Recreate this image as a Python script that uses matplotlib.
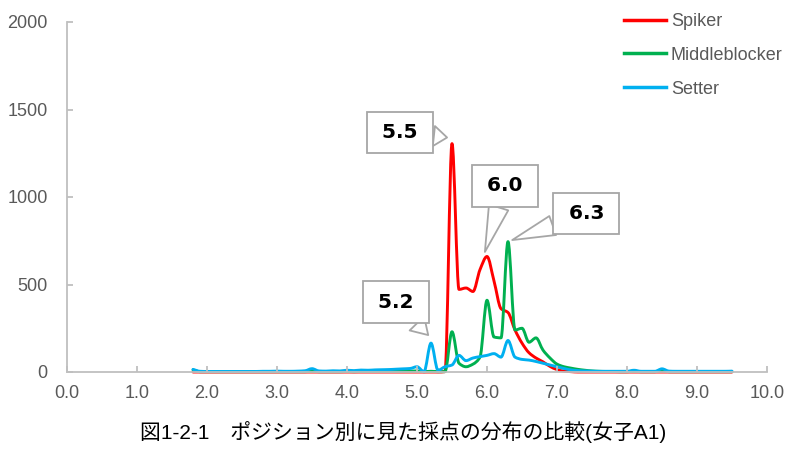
import matplotlib
matplotlib.use("Agg")
import matplotlib.pyplot as plt
import numpy as np
from matplotlib.path import Path
from matplotlib.patches import PathPatch
from matplotlib.lines import Line2D

# score bins (0.1 step) and counts per position
scores = [1.8, 1.9, 2.0, 2.1, 2.2, 2.3, 2.4, 2.5, 2.6, 2.7,
          2.8, 2.9, 3.0, 3.1, 3.2, 3.3, 3.4, 3.5, 3.6, 3.7,
          3.8, 3.9, 4.0, 4.1, 4.2, 4.3, 4.4, 4.5, 4.6, 4.7,
          4.8, 4.9, 5.0, 5.1, 5.2, 5.3, 5.4, 5.5, 5.6, 5.7,
          5.8, 5.9, 6.0, 6.1, 6.2, 6.3, 6.4, 6.5, 6.6, 6.7,
          6.8, 6.9, 7.0, 7.1, 7.2, 7.3, 7.4, 7.5, 7.6, 7.7,
          7.8, 7.9, 8.0, 8.1, 8.2, 8.3, 8.4, 8.5, 8.6, 8.7,
          8.8, 8.9, 9.0, 9.1, 9.2, 9.3, 9.4, 9.5]

spiker = [0, 0, 0, 0, 0, 0, 0, 0, 0, 0,
          0, 0, 0, 0, 0, 0, 0, 0, 0, 0,
          0, 0, 0, 0, 0, 0, 0, 0, 0, 0,
          0, 0, 0, 0, 0, 0, 2, 1305, 472, 480,
          460, 585, 660, 520, 362, 340, 240, 165, 110, 80,
          58, 32, 14, 5, 2, 0, 0, 0, 0, 0,
          0, 0, 0, 0, 0, 0, 0, 0, 0, 0,
          0, 0, 0, 0, 0, 0, 0, 0]

middleblocker = [12, 2, 2, 2, 2, 2, 2, 2, 2, 2,
                 2, 2, 2, 2, 2, 2, 2, 4, 2, 2,
                 2, 2, 3, 2, 3, 3, 3, 4, 4, 4,
                 5, 5, 6, 2, 4, 2, 2, 230, 50, 30,
                 45, 85, 410, 200, 195, 745, 240, 250, 170, 195,
                 125, 80, 45, 30, 22, 15, 10, 6, 4, 3,
                 3, 2, 2, 4, 2, 2, 2, 12, 2, 2,
                 2, 2, 2, 2, 2, 2, 2, 2]

setter = [15, 4, 3, 3, 3, 3, 3, 3, 3, 3,
          4, 4, 5, 4, 4, 5, 7, 19, 6, 5,
          7, 6, 10, 8, 11, 10, 12, 13, 14, 16,
          18, 20, 30, 2, 165, 10, 30, 40, 95, 65,
          80, 88, 95, 105, 85, 180, 85, 72, 68, 60,
          50, 40, 30, 20, 12, 8, 6, 5, 4, 4,
          4, 4, 4, 10, 4, 4, 4, 18, 5, 4,
          4, 4, 4, 4, 4, 4, 4, 5]

series_names = ["Spiker", "Middleblocker", "Setter"]
series_colors = ["#FF0000", "#00B050", "#00B0F0"]

# callouts: label, point, box centre
callouts = [("5.5", (5.43, 1340), (4.76, 1369)),
            ("6.0", (5.97, 686), (6.26, 1063)),
            ("6.3", (6.36, 754), (7.42, 906)),
            ("5.2", (5.16, 211), (4.70, 400))]

x_ticks = [0.0, 1.0, 2.0, 3.0, 4.0, 5.0, 6.0, 7.0, 8.0, 9.0, 10.0]
y_ticks = [0, 500, 1000, 1500, 2000]
title = "図1-2-1\u3000ポジション別に見た採点の分布の比較(女子A1)"

grey = "#BFBFBF"
label_grey = "#595959"


def smooth_path(xs, ys):
    """Bezier path through the points (monotone tangents, like a smoothed line)."""
    x = np.asarray(xs, float)
    y = np.asarray(ys, float)
    h = np.diff(x)
    d = np.diff(y) / h
    m = np.zeros(len(x))
    m[0], m[-1] = d[0], d[-1]
    for i in range(1, len(x) - 1):
        if d[i - 1] * d[i] > 0:
            m[i] = 2.0 / (1.0 / d[i - 1] + 1.0 / d[i])
    verts = [(x[0], y[0])]
    codes = [Path.MOVETO]
    for i in range(len(x) - 1):
        verts += [(x[i] + h[i] / 3, y[i] + m[i] * h[i] / 3),
                  (x[i + 1] - h[i] / 3, y[i + 1] - m[i + 1] * h[i] / 3),
                  (x[i + 1], y[i + 1])]
        codes += [Path.CURVE4] * 3
    return Path(verts, codes)


fig = plt.figure(figsize=(8.01, 4.51), dpi=100)
ax = fig.add_axes([67 / 801, 79 / 451, 700 / 801, 350 / 451])

handles = []
for name, vals, col in zip(series_names, [spiker, middleblocker, setter], series_colors):
    patch = PathPatch(smooth_path(scores, vals), fill=False, edgecolor=col, lw=2.1,
                      capstyle="round", joinstyle="round", clip_on=False)
    ax.add_patch(patch)
    handles.append(Line2D([], [], color=col, lw=2.5, label=name))

ax.set_xlim(0, 10)
ax.set_ylim(0, 2000)
ax.set_xticks(x_ticks)
ax.set_xticklabels([f"{t:.1f}" for t in x_ticks])
ax.set_yticks(y_ticks)

for side in ["top", "right"]:
    ax.spines[side].set_visible(False)
for side in ["left", "bottom"]:
    ax.spines[side].set_color(grey)
    ax.spines[side].set_linewidth(1.3)

ax.tick_params(axis="both", direction="in", length=4, width=1.3, color=grey,
               labelcolor=label_grey, labelsize=13)
ax.tick_params(axis="y", pad=14)
ax.tick_params(axis="x", pad=9)
for lab in ax.get_xticklabels() + ax.get_yticklabels():
    lab.set_fontfamily("Liberation Sans")

for text, xy, xytext in callouts:
    ax.annotate(f"\u2009{text}\u2009", xy=xy, xytext=xytext, ha="center", va="center",
                fontsize=14.5, fontweight="bold", family="DejaVu Sans", color="black",
                bbox=dict(boxstyle="square,pad=0.56", fc="white", ec="#A6A6A6", lw=1.3),
                arrowprops=dict(arrowstyle="wedge,tail_width=1.0", fc="white",
                                ec="#A6A6A6", lw=1.3, shrinkA=0, shrinkB=0))

leg = ax.legend(handles=handles, loc="upper left", bbox_to_anchor=(624 / 801, 1 - 13 / 451),
                bbox_transform=fig.transFigure, frameon=False, fontsize=13,
                handlelength=2.3, handletextpad=0.3, labelspacing=0.93,
                borderpad=0, borderaxespad=0)
for t in leg.get_texts():
    t.set_color(label_grey)
    t.set_fontfamily("Liberation Sans")

fig.text(403 / 801, 1 - 432 / 451, title, ha="center", va="center", fontsize=15,
         color="black", family=["Liberation Sans", "Noto Sans CJK JP"])

fig.savefig("out.png", dpi=100)
